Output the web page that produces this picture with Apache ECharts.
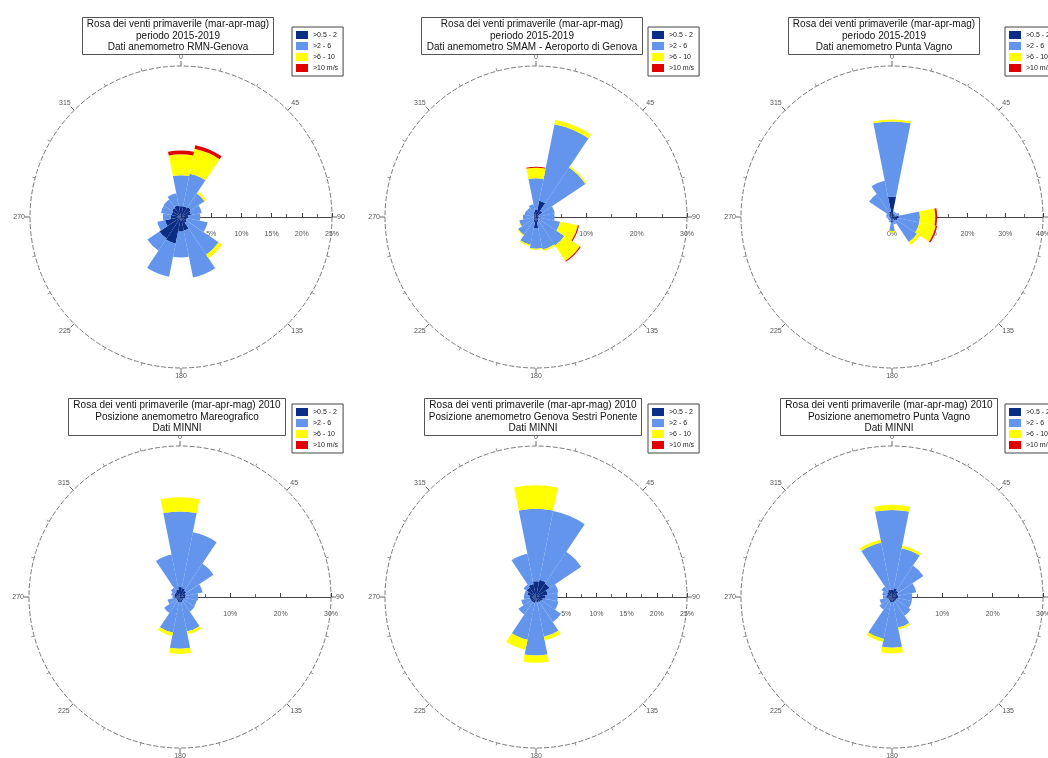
<!DOCTYPE html>
<html><head><meta charset="utf-8">
<script src="https://cdn.jsdelivr.net/npm/echarts@6/dist/echarts.min.js"></script>
<style>html,body{margin:0;padding:0;background:#fff}#c{width:1048px;height:758px}</style>
</head><body><div id="c"></div>
<script>
// ---- categories / labels ----
const directions = ['N','NNE','NE','ENE','E','ESE','SE','SSE','S','SSW','SW','WSW','W','WNW','NW','NNW'];
const speedClasses = ['>0.5 - 2', '>2 - 6', '>6 - 10', '>10 m/s'];
const angleTickLabels = ['0','45','90','135','180','225','270','315'];
const titles = [
  'Rosa dei venti primaverile (mar-apr-mag)\nperiodo 2015-2019\nDati anemometro RMN-Genova',
  'Rosa dei venti primaverile (mar-apr-mag)\nperiodo 2015-2019\nDati anemometro SMAM - Aeroporto di Genova',
  'Rosa dei venti primaverile (mar-apr-mag)\nperiodo 2015-2019\nDati anemometro Punta Vagno',
  'Rosa dei venti primaverile (mar-apr-mag) 2010\nPosizione anemometro Mareografico\nDati MINNI',
  'Rosa dei venti primaverile (mar-apr-mag) 2010\nPosizione anemometro Genova Sestri Ponente\nDati MINNI',
  'Rosa dei venti primaverile (mar-apr-mag) 2010\nPosizione anemometro Punta Vagno\nDati MINNI'
];
const radiusMax = [25, 30, 40, 30, 25, 30];
const radiusLabelStep = [5, 10, 10, 10, 5, 10];

// ---- frequencies (%) per speed class, directions N..NNW ----
// Panel 1: RMN-Genova 2015-2019
const p1_s1 = [1.8,1.8,2.0,1.7,1.2,1.0,1.2,2.3,2.4,4.5,4.3,2.7,1.7,1.6,1.8,2.0];
const p1_s2 = [5.1,5.5,2.7,1.8,2.0,3.5,6.3,7.9,4.3,5.6,2.4,1.3,1.3,1.8,1.7,2.0];
const p1_s3 = [3.5,4.2,0.4,0,0,0,0.7,0,0,0,0,0,0,0,0,0];
const p1_s4 = [0.6,0.6,0,0,0,0,0,0,0,0,0,0,0,0,0,0];
// Panel 2: SMAM - Aeroporto di Genova 2015-2019
const p2_s1 = [1.5,3.3,1.5,0.6,0.5,0.5,0.6,1.0,2.2,1.0,0.6,0.5,0.5,0.5,0.6,1.0];
const p2_s2 = [6.2,15.5,10.3,3.2,3.2,4.4,6.2,5.6,4.1,4.6,3.7,2.9,2.1,1.8,1.6,1.6];
const p2_s3 = [2.1,0.9,0.3,0,0,3.6,3.7,0.3,0.2,0.3,0.2,0.1,0,0,0,0];
const p2_s4 = [0.2,0,0,0,0,0.2,0.2,0,0,0,0,0,0,0,0,0];
// Panel 3: Punta Vagno 2015-2019
const p3_s1 = [5.4,1.0,0.8,1.0,1.8,1.5,1.2,0.8,1.5,0.8,0.6,0.6,0.8,0.8,1.0,1.5];
const p3_s2 = [19.9,0.5,0.7,1.0,5.6,5.9,6.8,1.2,2.2,0.7,0.6,0.6,0.7,0.8,6.3,8.3];
const p3_s3 = [0.5,0,0,0,4.1,4.4,0.9,0,0.4,0,0,0,0,0,0,0];
const p3_s4 = [0,0,0,0,0.5,0.4,0,0,0,0,0,0,0,0,0,0];
// Panel 4: MINNI Mareografico 2010
const p4_s1 = [2.0,1.8,1.5,1.2,1.0,0.8,0.8,1.0,1.0,1.0,0.8,0.8,1.0,1.2,1.2,1.5];
const p4_s2 = [15.0,11.3,6.5,3.4,2.6,2.6,2.7,6.0,9.3,6.2,3.0,1.7,0.5,0.6,1.0,7.1];
const p4_s3 = [2.8,0,0,0,0,0,0,0.6,1.0,0.7,0,0,0,0,0,0];
const p4_s4 = [0,0,0,0,0,0,0,0,0,0,0,0,0,0,0,0];
// Panel 5: MINNI Genova Sestri Ponente 2010
const p5_s1 = [2.6,2.9,2.7,2.0,1.5,1.2,1.0,0.9,0.8,1.0,1.0,1.0,1.0,1.5,1.9,2.2];
const p5_s2 = [12.0,11.6,6.3,1.8,2.1,2.6,4.0,5.8,8.9,6.2,2.5,1.5,1.0,0.5,0.6,5.1];
const p5_s3 = [3.9,0,0,0,0,0,0,0.6,1.2,1.7,0,0,0,0,0,0];
const p5_s4 = [0,0,0,0,0,0,0,0,0,0,0,0,0,0,0,0];
// Panel 6: MINNI Punta Vagno 2010
const p6_s1 = [1.5,1.8,1.5,1.2,1.2,1.0,1.0,1.0,1.0,1.0,0.8,0.8,1.0,1.0,1.2,1.5];
const p6_s2 = [15.8,8.1,6.0,3.7,2.8,3.0,3.5,5.2,9.1,7.5,2.2,1.7,0.8,1.0,1.3,9.5];
const p6_s3 = [1.0,0.5,0,0,0,0,0,0.4,1.1,0.6,0,0,0,0,0,0.6];
const p6_s4 = [0,0,0,0,0,0,0,0,0,0,0,0,0,0,0,0];

const panelData = [
  [p1_s1,p1_s2,p1_s3,p1_s4],[p2_s1,p2_s2,p2_s3,p2_s4],[p3_s1,p3_s2,p3_s3,p3_s4],
  [p4_s1,p4_s2,p4_s3,p4_s4],[p5_s1,p5_s2,p5_s3,p5_s4],[p6_s1,p6_s2,p6_s3,p6_s4]
];

// ---- layout ----
const centers = [[181,217],[536,217],[892,217],[180,597],[536,597],[892,597]];
const R = 151;
const titlePos = [[178,17],[532,17],[884,17],[177,398],[533,398],[889,398]];
const legendPos = [[292,27],[648,27],[1005,27],[292,404],[648,404],[1005,404]];
const colors = ['#0b2d86','#6495ed','#ffff00','#e00000'];
const FONT = '"Liberation Sans", Arial, sans-serif';

const option = {
  animation: false,
  backgroundColor: '#ffffff',
  title: [], legend: [], polar: [], angleAxis: [], radiusAxis: [], series: []
};

for (let i = 0; i < 6; i++) {
  const [cx, cy] = centers[i];
  option.polar.push({center:[cx,cy], radius:R});
  option.polar.push({center:[cx,cy], radius:R});
  // frame axes
  option.angleAxis.push({
    polarIndex: 2*i, type:'value', min:0, max:360, interval:45, startAngle:0, clockwise:true, z:1,
    axisLine:{show:true, lineStyle:{color:'#7a7a7a', width:1, type:[5,2]}},
    axisTick:{show:true, length:5, lineStyle:{color:'#666', width:1}},
    minorTick:{show:true, splitNumber:3, length:3, lineStyle:{color:'#999'}},
    splitLine:{show:false}, minorSplitLine:{show:false},
    axisLabel:{show:true, margin:5, fontSize:7, color:'#555', fontFamily:FONT,
      formatter: v => angleTickLabels[((v + 90) % 360) / 45]}
  });
  option.radiusAxis.push({
    polarIndex: 2*i, type:'value', min:0, max:radiusMax[i], interval:radiusLabelStep[i], z:1,
    axisLine:{show:true, lineStyle:{color:'#444', width:1}},
    axisTick:{show:true, length:4, lineStyle:{color:'#444'}},
    minorTick:{show:true, splitNumber:2, length:3, lineStyle:{color:'#666'}},
    splitLine:{show:false}, minorSplitLine:{show:false},
    axisLabel:{show:true, margin:-14, verticalAlign:'top', fontSize:7, color:'#555', fontFamily:FONT, formatter:'{value}%'}
  });
  // bar axes
  option.angleAxis.push({
    polarIndex: 2*i+1, type:'category', data:directions, startAngle:101.25, clockwise:true, boundaryGap:true,
    axisLine:{show:false}, axisTick:{show:false}, axisLabel:{show:false}, splitLine:{show:false}
  });
  option.radiusAxis.push({
    polarIndex: 2*i+1, type:'value', min:0, max:radiusMax[i],
    axisLine:{show:false}, axisTick:{show:false}, axisLabel:{show:false}, splitLine:{show:false}
  });
  for (let k = 0; k < 4; k++) {
    option.series.push({
      type:'bar', coordinateSystem:'polar', polarIndex:2*i+1, name:speedClasses[k],
      stack:'rose'+i, data:panelData[i][k], barCategoryGap:'0%', z:3, silent:true,
      itemStyle:{color:colors[k]}
    });
  }
  option.title.push({
    text: titles[i], left: titlePos[i][0] - 5, top: titlePos[i][1], textAlign:'center',
    padding:[2,5,2,5], borderColor:'#555', borderWidth:1, backgroundColor:'#fff',
    textStyle:{fontSize:10, lineHeight:11.3, fontWeight:'normal', color:'#111', fontFamily:FONT}
  });
  option.legend.push({
    left: legendPos[i][0], top: legendPos[i][1], orient:'vertical', data:speedClasses,
    itemWidth:12, itemHeight:8, itemGap:3, padding:[4,5,4,4], icon:'rect',
    borderColor:'#444', borderWidth:1, backgroundColor:'#fff', selectedMode:false,
    textStyle:{fontSize:7, color:'#222', fontFamily:FONT}
  });
}

const chart = echarts.init(document.getElementById('c'), null, {renderer:'canvas'});
chart.setOption(option);
</script>
</body></html>
